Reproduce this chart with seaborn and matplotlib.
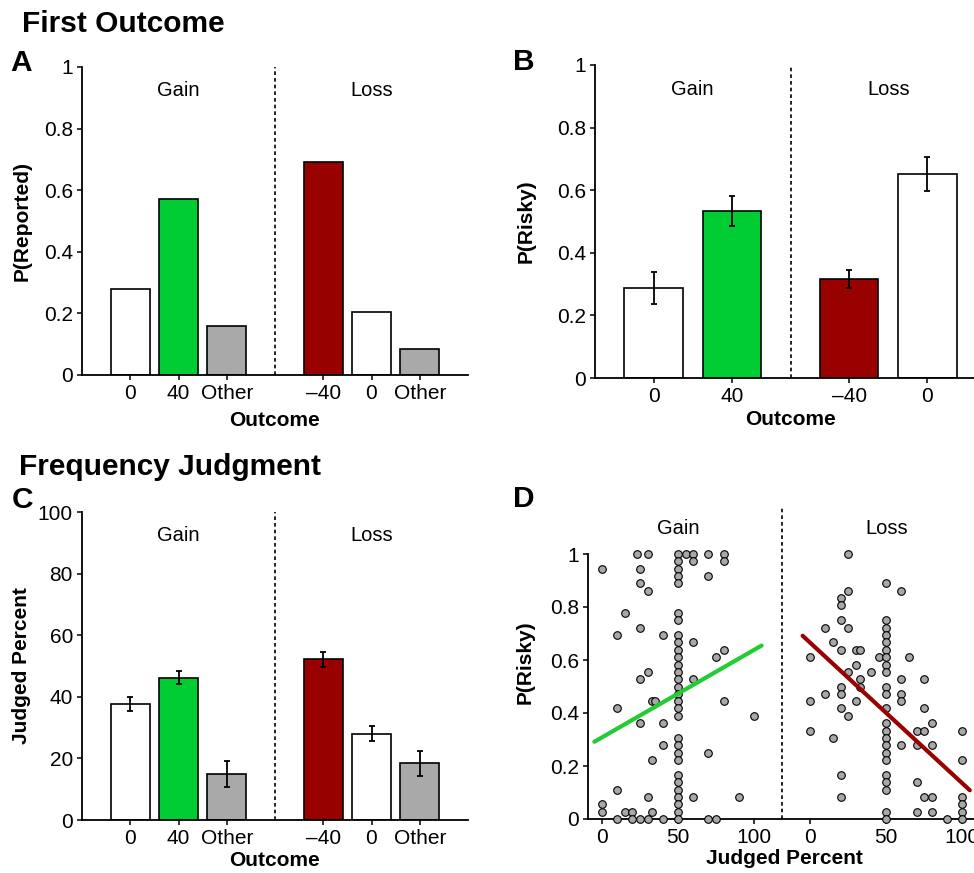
import numpy as np
import pandas as pd
import matplotlib
matplotlib.use("Agg")
import matplotlib.pyplot as plt
import seaborn as sns

sns.set_theme(style="ticks")
plt.rcParams['font.family'] = ['Liberation Sans', 'DejaVu Sans']
plt.rcParams['text.color'] = 'black'
plt.rcParams['axes.labelcolor'] = 'black'
plt.rcParams['xtick.color'] = 'black'
plt.rcParams['ytick.color'] = 'black'
plt.rcParams['axes.edgecolor'] = 'black'

# ---------------- data ----------------
# Panel A: first outcome reported
a_labels = ["0", "40", "Other", "\u201340", "0", "Other"]
a_values = [0.280, 0.571, 0.159, 0.692, 0.205, 0.084]

# Panel B: P(risky) by first outcome
b_labels = ["0", "40", "\u201340", "0"]
b_values = [0.288, 0.533, 0.316, 0.651]
b_errors = [0.051, 0.048, 0.029, 0.054]

# Panel C: judged percent
c_labels = ["0", "40", "Other", "\u201340", "0", "Other"]
c_values = [37.6, 46.2, 15.0, 52.2, 28.0, 18.4]
c_errors = [2.2, 2.2, 4.2, 2.5, 2.4, 4.1]

# Panel D: judged percent vs P(risky)
gain_x = [23, 30, 50, 55, 60, 70, 80,
          50, 60, 80,
          0, 25, 50,
          50, 70,
          25, 50,
          30,
          15, 50,
          50,
          25,
          10, 40, 50,
          50, 60,
          50, 80,
          50, 75,
          50,
          30, 50,
          25, 50, 60,
          50,
          50,
          33, 35, 50, 80,
          10, 50,
          50, 100,
          25, 40,
          50,
          40, 50,
          50, 70,
          33, 50,
          50,
          50,
          10, 50,
          30, 50, 60, 90,
          0, 50,
          0, 15, 20, 33, 50,
          10, 20, 25, 30, 40, 50, 70, 75]
gain_y = [1.0, 1.0, 1.0, 1.0, 1.0, 1.0, 1.0,
          0.972, 0.972, 0.972,
          0.944, 0.944, 0.944,
          0.917, 0.917,
          0.889, 0.889,
          0.861,
          0.778, 0.778,
          0.750,
          0.722,
          0.694, 0.694, 0.694,
          0.667, 0.667,
          0.639, 0.639,
          0.611, 0.611,
          0.583,
          0.556, 0.556,
          0.528, 0.528, 0.528,
          0.500,
          0.472,
          0.444, 0.444, 0.444, 0.444,
          0.417, 0.417,
          0.389, 0.389,
          0.361, 0.361,
          0.306,
          0.278, 0.278,
          0.250, 0.250,
          0.222, 0.222,
          0.167,
          0.139,
          0.111, 0.111,
          0.083, 0.083, 0.083, 0.083,
          0.056, 0.056,
          0.028, 0.028, 0.028, 0.028, 0.028,
          0.0, 0.0, 0.0, 0.0, 0.0, 0.0, 0.0, 0.0]

loss_x = [25,
          50,
          25, 60,
          20,
          20,
          20, 50,
          10, 25, 50,
          50,
          15, 50,
          20, 30, 33, 50,
          0, 45, 50, 65,
          30, 50,
          25, 40, 50,
          33, 60, 75,
          20, 33, 50,
          10, 20, 50, 60,
          0, 30, 60,
          20, 50, 75,
          25,
          50, 80,
          0, 50, 70, 75, 100,
          15, 50,
          50, 60, 70, 80,
          50,
          50, 100,
          20, 50,
          50, 70,
          50,
          20, 75, 80, 100,
          100,
          50, 70, 80, 100,
          50, 90, 100]
loss_y = [1.0,
          0.889,
          0.861, 0.861,
          0.833,
          0.806,
          0.750, 0.750,
          0.722, 0.722, 0.722,
          0.694,
          0.667, 0.667,
          0.639, 0.639, 0.639, 0.639,
          0.611, 0.611, 0.611, 0.611,
          0.583, 0.583,
          0.556, 0.556, 0.556,
          0.528, 0.528, 0.528,
          0.500, 0.500, 0.500,
          0.472, 0.472, 0.472, 0.472,
          0.444, 0.444, 0.444,
          0.417, 0.417, 0.417,
          0.389,
          0.361, 0.361,
          0.333, 0.333, 0.333, 0.333, 0.333,
          0.306, 0.306,
          0.278, 0.278, 0.278, 0.278,
          0.250,
          0.222, 0.222,
          0.167, 0.167,
          0.139, 0.139,
          0.111,
          0.083, 0.083, 0.083, 0.083,
          0.056,
          0.028, 0.028, 0.028, 0.028,
          0.0, 0.0, 0.0]

# fitted lines (intercept, slope), drawn over x = -5..105
gain_fit = (0.308, 0.0033)
loss_fit = (0.665, -0.0053)
fit_range = [-5, 105]

d_ticks = ["0", "50", "100", "0", "50", "100"]

# ---------------- style ----------------
WHITE, GREEN, GREY, RED = "#ffffff", "#00cc33", "#a9a9a9", "#990000"
six_colors = [WHITE, GREEN, GREY, RED, WHITE, GREY]
four_colors = [WHITE, GREEN, RED, WHITE]
pos6 = [0, 1, 2, 4, 5, 6]
pos4 = [0, 1, 2.5, 3.5]
LOSS_OFFSET = 137

W, H = 974, 873
fig = plt.figure(figsize=(W / 100, H / 100), dpi=100)


def ax_px(left, top, right, bottom):
    return fig.add_axes([left / W, 1 - bottom / H, (right - left) / W, (bottom - top) / H])


TICK_FS = 15
LAB_FS = 15
GL_FS = 14.5


def style_axes(ax):
    sns.despine(ax=ax)
    for s in ("left", "bottom"):
        ax.spines[s].set_linewidth(1.3)
        ax.spines[s].set_color("black")
    ax.tick_params(axis="both", direction="out", length=3.5, width=1.1,
                   labelsize=TICK_FS, pad=3, colors="black")
    ax.grid(False)
    ax.set_facecolor("white")


def bars(ax, positions, values, colors, width):
    df = pd.DataFrame({"pos": positions, "value": values,
                       "bar": [f"b{i}" for i in range(len(values))]})
    pal = {f"b{i}": c for i, c in enumerate(colors)}
    sns.barplot(data=df, x="pos", y="value", hue="bar", palette=pal,
                native_scale=True, dodge=False, legend=False, width=width,
                edgecolor="black", linewidth=1.2, errorbar=None, ax=ax,
                saturation=1)


def dashed(ax, x):
    ax.axvline(x, color="black", lw=1.2, ls=(0, (2.2, 1.8)), zorder=1)


# ---------------- Panel A ----------------
axA = ax_px(82, 67, 468, 375)
bars(axA, pos6, a_values, six_colors, 0.8)
axA.set_xlim(-1, 7)
axA.set_ylim(0, 1)
dashed(axA, 3)
axA.set_xticks(pos6)
axA.set_xticklabels(a_labels)
axA.set_yticks([0, 0.2, 0.4, 0.6, 0.8, 1])
axA.set_yticklabels(["0", "0.2", "0.4", "0.6", "0.8", "1"])
axA.text(1, 0.925, "Gain", ha="center", va="center", fontsize=GL_FS, color="black")
axA.text(5, 0.925, "Loss", ha="center", va="center", fontsize=GL_FS, color="black")
axA.set_xlabel("Outcome", fontsize=LAB_FS, fontweight="bold", va="center")
axA.set_ylabel("P(Reported)", fontsize=LAB_FS, fontweight="bold", va="center")
style_axes(axA)
axA.xaxis.set_label_coords(0.5, -0.149)
axA.yaxis.set_label_coords(-0.155, 0.5)

# ---------------- Panel B ----------------
axB = ax_px(595, 65, 986, 378)
bars(axB, pos4, b_values, four_colors, 0.75)
axB.errorbar(pos4, b_values, yerr=b_errors, fmt="none", ecolor="black",
             elinewidth=1.3, capsize=2.5, capthick=1.3, zorder=5)
axB.set_xlim(-0.75, 4.25)
axB.set_ylim(0, 1)
dashed(axB, 1.75)
axB.set_xticks(pos4)
axB.set_xticklabels(b_labels)
axB.set_yticks([0, 0.2, 0.4, 0.6, 0.8, 1])
axB.set_yticklabels(["0", "0.2", "0.4", "0.6", "0.8", "1"])
axB.text(0.5, 0.923, "Gain", ha="center", va="center", fontsize=GL_FS, color="black")
axB.text(3.0, 0.923, "Loss", ha="center", va="center", fontsize=GL_FS, color="black")
axB.set_xlabel("Outcome", fontsize=LAB_FS, fontweight="bold", va="center")
axB.set_ylabel("P(Risky)", fontsize=LAB_FS, fontweight="bold", va="center")
style_axes(axB)
axB.xaxis.set_label_coords(0.5, -0.131)
axB.yaxis.set_label_coords(-0.1765, 0.5)

# ---------------- Panel C ----------------
axC = ax_px(82, 512, 468, 820)
bars(axC, pos6, c_values, six_colors, 0.8)
axC.errorbar(pos6, c_values, yerr=c_errors, fmt="none", ecolor="black",
             elinewidth=1.3, capsize=2.5, capthick=1.3, zorder=5)
axC.set_xlim(-1, 7)
axC.set_ylim(0, 100)
dashed(axC, 3)
axC.set_xticks(pos6)
axC.set_xticklabels(c_labels)
axC.set_yticks([0, 20, 40, 60, 80, 100])
axC.text(1, 92.5, "Gain", ha="center", va="center", fontsize=GL_FS, color="black")
axC.text(5, 92.5, "Loss", ha="center", va="center", fontsize=GL_FS, color="black")
axC.set_xlabel("Outcome", fontsize=LAB_FS, fontweight="bold", va="center")
axC.set_ylabel("Judged Percent", fontsize=LAB_FS, fontweight="bold", va="center")
style_axes(axC)
axC.xaxis.set_label_coords(0.5, -0.133)
axC.yaxis.set_label_coords(-0.156, 0.5)

# ---------------- Panel D ----------------
D_TOP = 1.18
axD = ax_px(588, 819 - D_TOP * 265, 980, 819)
pts = pd.DataFrame({
    "x": list(gain_x) + [v + LOSS_OFFSET for v in loss_x],
    "y": list(gain_y) + list(loss_y),
})
sns.scatterplot(data=pts, x="x", y="y", s=30, color="#a8a8a8",
                edgecolor="black", linewidth=0.8, clip_on=False, zorder=3,
                ax=axD, legend=False)
fx = np.array(fit_range, dtype=float)
sns.lineplot(x=fx, y=gain_fit[0] + gain_fit[1] * fx, color="#22cc33", lw=3,
             ax=axD, zorder=4)
sns.lineplot(x=fx + LOSS_OFFSET, y=loss_fit[0] + loss_fit[1] * fx, color=RED,
             lw=3, ax=axD, zorder=4)
axD.set_xlim(-9.2, -9.2 + 392 / 1.52)
axD.set_ylim(0, D_TOP)
dashed(axD, 118.4)
axD.set_xticks([0, 50, 100, LOSS_OFFSET, LOSS_OFFSET + 50, LOSS_OFFSET + 100])
axD.set_xticklabels(d_ticks)
axD.set_yticks([0, 0.2, 0.4, 0.6, 0.8, 1])
axD.set_yticklabels(["0", "0.2", "0.4", "0.6", "0.8", "1"])
axD.text(50, 1.098, "Gain", ha="center", va="center", fontsize=GL_FS, color="black")
axD.text(LOSS_OFFSET + 50, 1.098, "Loss", ha="center", va="center", fontsize=GL_FS, color="black")
axD.set_xlabel("Judged Percent", fontsize=LAB_FS, fontweight="bold", va="center")
axD.set_ylabel("P(Risky)", fontsize=LAB_FS, fontweight="bold", va="center")
style_axes(axD)
axD.spines["left"].set_bounds(0, 1)
axD.xaxis.set_label_coords(0.5, -0.125)
axD.yaxis.set_label_coords(-0.16, 0.5)

# ---------------- titles & panel letters ----------------
def ftext(x, y_base, s, size):
    fig.text(x / W, 1 - y_base / H, s, fontsize=size, fontweight="bold",
             ha="left", va="baseline", color="black")

ftext(22, 32, "First Outcome", 21.5)
ftext(19, 475, "Frequency Judgment", 21.5)
ftext(10, 71, "A", 21.5)
ftext(513, 70, "B", 21.5)
ftext(12, 508, "C", 21.5)
ftext(513, 507, "D", 21.5)

fig.savefig("out.png", dpi=100, facecolor="white")
